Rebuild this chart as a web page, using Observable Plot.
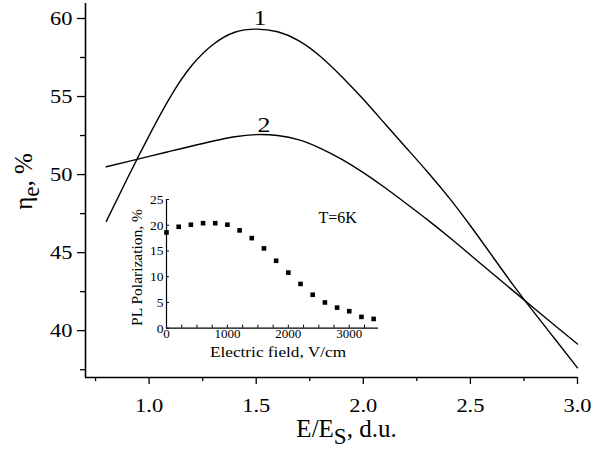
<!DOCTYPE html>
<html><head><meta charset="utf-8">
<script src="https://cdn.jsdelivr.net/npm/d3@7"></script>
<script src="https://cdn.jsdelivr.net/npm/@observablehq/plot@0.6"></script>
<style>
html,body{margin:0;padding:0;background:#fff}
#wrap{position:relative;width:615px;height:454px}
#wrap svg{position:absolute;left:0;top:0}
#wrap svg, #wrap svg text{font-family:"Liberation Serif","Times New Roman",serif !important}
</style></head><body><div id="wrap"></div>
<script>
// ---- main chart data ----
const ratio = [0.8,0.9,1.0,1.1,1.2,1.3,1.4,1.5,1.6,1.7,1.8,1.9,2.0,2.1,2.2,2.3,2.4,2.5,2.6,2.7,2.8,2.9,3.0];
const eta1  = [47.0,49.8,52.5,55.0,57.0,58.35,59.12,59.32,59.15,58.57,57.57,56.27,54.82,53.27,51.72,50.17,48.52,46.72,44.82,42.92,41.12,39.37,37.62];
const eta2  = [50.5,50.83,51.17,51.5,51.83,52.15,52.42,52.56,52.5,52.22,51.68,50.97,50.12,49.17,48.15,47.1,46.0,44.85,43.7,42.55,41.4,40.27,39.15];
const xDomain = [0.703, 3.0];
const yDomain = [37.0, 60.96];
const xTicks = [1.0,1.5,2.0,2.5,3.0];
const xMinor = [0.75,1.25,1.75,2.25,2.75];
const yTicks = [40,45,50,55,60];
const yMinor = [37.5,42.5,47.5,52.5,57.5];
const curveNames = ["1","2"];
const curveNameX = [1.518,1.536];
const curveNameY = [60.03,53.19];
const xTitle = ["E/E_S, d.u."];
const yTitle = ["\u03B7_e, %"];

// ---- inset data ----
const field = [0,200,400,600,800,1000,1200,1400,1600,1800,2000,2200,2400,2600,2800,3000,3200,3400];
const polarization = [18.6,19.7,20.1,20.4,20.4,20.1,19.0,17.5,15.5,13.1,10.8,8.6,6.5,5.0,4.0,3.3,2.2,1.8];
const insetXDomain = [0, 3480];
const insetYDomain = [0, 25];
const insetXTicks = [0,1000,2000,3000];
const insetXMarks = [250,500,750,1000,1250,1500,1750,2000,2250,2500,2750,3000,3250];
const insetYTicks = [0,5,10,15,20,25];
const insetNote = ["T=6K"];
const insetNoteX = [2808];
const insetNoteY = [21.4];
const insetXTitle = ["Electric field, V/cm"];
const insetYTitle = ["PL Polarization, %"];

const FONT = "'Liberation Serif','Times New Roman',serif";
const W = 615, H = 454;
const blank = () => "";
const title = {textAnchor: "middle", lineAnchor: "middle", fill: "#000", text: (d) => d};

const main = Plot.plot({
  width: W, height: H,
  marginLeft: 85, marginRight: 38, marginTop: 3, marginBottom: 77,
  x: {domain: xDomain},
  y: {domain: yDomain},
  style: {fontFamily: FONT, background: "#fff", color: "#000", overflow: "visible"},
  marks: [
    Plot.axisX({ticks: xMinor, tickSize: 4, tickFormat: blank, label: null, strokeWidth: 1.3}),
    Plot.axisX({ticks: xTicks, tickSize: 7, tickPadding: 14, tickFormat: d3.format(".1f"), label: null, fontSize: 19, strokeWidth: 1.3}),
    Plot.axisY({ticks: yMinor, tickSize: 5, tickFormat: blank, label: null, strokeWidth: 1.3}),
    Plot.axisY({ticks: yTicks, tickSize: 8, tickPadding: 5, label: null, fontSize: 19, strokeWidth: 1.3}),
    Plot.ruleX([xDomain[0]], {stroke: "#000", strokeWidth: 1.6}),
    Plot.ruleY([yDomain[0]], {stroke: "#000", strokeWidth: 1.6}),
    Plot.line(ratio, {x: (d) => d, y: (d, i) => eta1[i], curve: "natural", stroke: "#000", strokeWidth: 1.4}),
    Plot.line(ratio, {x: (d) => d, y: (d, i) => eta2[i], curve: "natural", stroke: "#000", strokeWidth: 1.4}),
    Plot.text(curveNames, {x: (d, i) => curveNameX[i], y: (d, i) => curveNameY[i], text: (d) => d, fontSize: 22, fill: "#000"}),
    Plot.text(xTitle, {...title, frameAnchor: "bottom", dx: 15, dy: 51, fontSize: 25}),
    Plot.text(yTitle, {...title, frameAnchor: "left", rotate: -90, dx: -62, dy: -9, fontSize: 25})
  ]
});

const inset = Plot.plot({
  width: W, height: H,
  marginLeft: 166, marginRight: 237, marginTop: 199, marginBottom: 126.3,
  x: {domain: insetXDomain},
  y: {domain: insetYDomain},
  style: {fontFamily: FONT, background: "transparent", color: "#000", overflow: "visible"},
  marks: [
    Plot.axisX({ticks: insetXMarks, tickSize: -3, tickFormat: blank, label: null}),
    Plot.axisX({ticks: insetXTicks, tickSize: 0, tickPadding: 0.5, tickFormat: d3.format("d"), label: null, fontSize: 13}),
    Plot.axisY({ticks: insetYTicks, tickSize: -3, tickFormat: blank, label: null}),
    Plot.axisY({ticks: insetYTicks, tickSize: 0, tickPadding: 3, label: null, fontSize: 13.5}),
    Plot.ruleX([insetXDomain[0]], {stroke: "#000", strokeWidth: 1.2}),
    Plot.ruleY([insetYDomain[0]], {stroke: "#000", strokeWidth: 1.2}),
    Plot.dot(field, {x: (d) => d, y: (d, i) => polarization[i], symbol: "square", r: 2.6, fill: "#000", stroke: "none"}),
    Plot.text(insetNote, {x: (d, i) => insetNoteX[i], y: (d, i) => insetNoteY[i], text: (d) => d, fontSize: 16, fill: "#000"}),
    Plot.text(insetXTitle, {...title, frameAnchor: "bottom", dx: 5.5, dy: 23.5, fontSize: 15}),
    Plot.text(insetYTitle, {...title, frameAnchor: "left", rotate: -90, dx: -29, dy: 3.6, fontSize: 15.5})
  ]
});

// turn "X_s" into a subscript tspan
function subscripts(svg) {
  d3.select(svg).selectAll("text").each(function () {
    const s = this.textContent;
    if (!s.includes("_")) return;
    const parts = s.split(/_(\w)/);
    const t = d3.select(this);
    t.text(null);
    parts.forEach((p, i) => {
      const ts = t.append("tspan").text(p);
      if (i % 2 === 1) ts.attr("font-size", "0.92em").attr("dy", "0.33em");
      else if (i > 0) ts.attr("dy", "-0.3em");
    });
  });
}
subscripts(main);

const wrap = document.getElementById("wrap");
wrap.appendChild(main);
wrap.appendChild(inset);

// the reference lettering is slightly wide: stretch horizontal labels
function widen(svg, match, k) {
  d3.select(svg).selectAll("text").each(function () {
    const s = this.textContent;
    if (!match(s)) return;
    const tr = this.getAttribute("transform") || "";
    if (/rotate/.test(tr) && !/rotate\(0\)/.test(tr)) return;
    const len = this.getComputedTextLength();
    if (len > 0) {
      this.setAttribute("textLength", (len * k).toFixed(2));
      this.setAttribute("lengthAdjust", "spacingAndGlyphs");
    }
  });
}
widen(main, (s) => /^\d+(\.\d)?$/.test(s), 1.18);
widen(inset, (s) => s === insetXTitle[0], 1.15);
</script>
</body></html>
